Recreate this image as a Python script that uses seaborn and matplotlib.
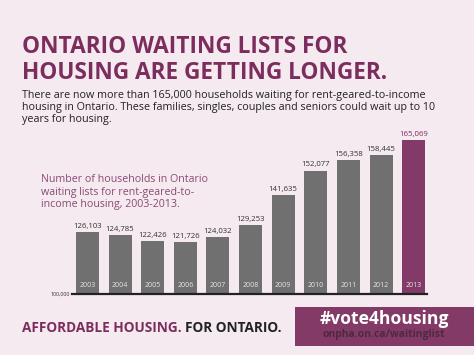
import numpy as np
import pandas as pd
import matplotlib
matplotlib.use("Agg")
import matplotlib.pyplot as plt
import seaborn as sns

years = ["2003", "2004", "2005", "2006", "2007", "2008", "2009", "2010", "2011", "2012", "2013"]
households = [126103, 124785, 122426, 121726, 124032, 129253, 141635, 152077, 156358, 158445, 165069]
value_labels = ["126,103", "124,785", "122,426", "121,726", "124,032", "129,253",
                "141,635", "152,077", "156,358", "158,445", "165,069"]
base_value = 100000

bg = "#f4eaf0"
purple = "#7d2d5d"
gray = "#707070"

sns.set_style("white")
plt.rcParams["font.family"] = ["Open Sans", "DejaVu Sans"]

df = pd.DataFrame({"year": years, "households": households})
bar_colors = [gray] * (len(years) - 1) + ["#833a68"]

fig = plt.figure(figsize=(4.74, 3.55), dpi=100)
fig.patch.set_facecolor(bg)
ax = fig.add_axes([72 / 474, 61 / 355, 355 / 474, 164 / 355])
ax.set_facecolor(bg)

sns.barplot(data=df, x="year", y="households", hue="year", palette=bar_colors,
            legend=False, width=0.705, saturation=1, linewidth=0, edgecolor="none", ax=ax)
ax.set_ylim(base_value, 169170)
ax.set_xlim(-0.475, 10.41)
for s in ["top", "right", "left"]:
    ax.spines[s].set_visible(False)
ax.spines["bottom"].set_color("#222222")
ax.spines["bottom"].set_linewidth(1.6)
ax.set_xticks([])
ax.set_yticks([])
ax.set_xlabel("")
ax.set_ylabel("")

for i, (v, lab) in enumerate(zip(households, value_labels)):
    c = purple if i == len(years) - 1 else "#333333"
    ax.annotate(lab, (i, v), xytext=(0, 1.5), textcoords="offset points",
                ha="center", va="bottom", fontsize=5.6, color=c)
    ax.annotate(years[i], (i, base_value), xytext=(0, 3.5), textcoords="offset points",
                ha="center", va="bottom", fontsize=5, color="#e6e6e6")
ax.annotate("100,000", (0, base_value), xycoords=("axes fraction", "data"),
            xytext=(-1.5, 0), textcoords="offset points", ha="right", va="center",
            fontsize=3.8, color="#333333")

# headline and text
fig.text(22 / 474, 1 - 47 / 355, "ONTARIO WAITING LISTS FOR", fontsize=16.3, fontweight="bold",
         color=purple, va="center", ha="left")
fig.text(22 / 474, 1 - 73 / 355, "HOUSING ARE GETTING LONGER.", fontsize=16.3, fontweight="bold",
         color=purple, va="center", ha="left")
body = ("There are now more than 165,000 households waiting for rent-geared-to-income\n"
        "housing in Ontario. These families, singles, couples and seniors could wait up to 10\n"
        "years for housing.")
fig.text(22 / 474, 1 - 90 / 355, body, fontsize=7.75, color="#222222", va="top", ha="left",
         linespacing=1.12)
sub = ("Number of households in Ontario\n"
       "waiting lists for rent-geared-to-\n"
       "income housing, 2003-2013.")
fig.text(41 / 474, 1 - 174 / 355, sub, fontsize=7.7, color="#8b4a74", va="top", ha="left",
         linespacing=1.2)

# footer
t1 = fig.text(22 / 474, 1 - 328 / 355, "AFFORDABLE HOUSING. ", fontsize=9.8, fontweight="bold",
              color=purple, va="center", ha="left")
fig.canvas.draw()
bb = t1.get_window_extent()
fig.text(bb.x1 / fig.bbox.width, 1 - 328 / 355, "FOR ONTARIO.", fontsize=9.8,
         fontweight="bold", color="#222222", va="center", ha="left")

box = plt.Rectangle((295 / 474, 1 - 346 / 355), 1 - 295 / 474, 39 / 355,
                    transform=fig.transFigure, facecolor="#833a67", edgecolor="none")
fig.patches.append(box)
fig.text(384 / 474, 1 - 319.5 / 355, "#vote4housing", fontsize=12.6, fontweight="bold",
         color="white", va="center", ha="center")
fig.text(384 / 474, 1 - 334.5 / 355, "onpha.on.ca/waitinglist", fontsize=7.5, fontweight="bold",
         color="#4e2a40", va="center", ha="center")

fig.savefig("out.png", dpi=100, facecolor=bg)
